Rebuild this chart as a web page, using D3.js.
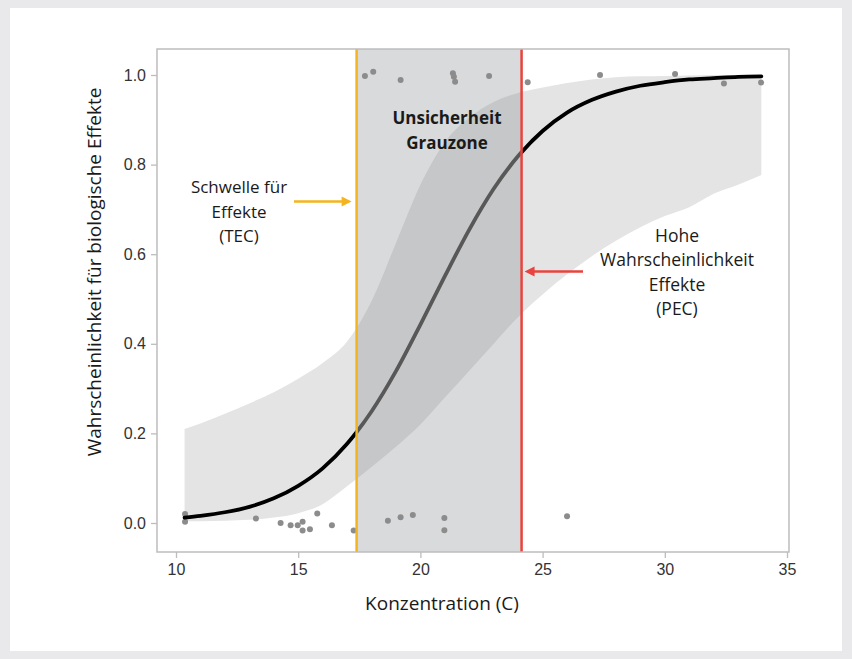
<!DOCTYPE html>
<html><head><meta charset="utf-8">
<script src="https://cdn.jsdelivr.net/npm/d3@7/dist/d3.min.js"></script>
<style>
html,body{margin:0;padding:0;background:#e9e9eb;}
svg{display:block;}
</style></head>
<body>
<script>
// ---- data ----
const xTicks = [10, 15, 20, 25, 30, 35];
const yTicks = [0.0, 0.2, 0.4, 0.6, 0.8, 1.0];
const tecValue = 17.39;   // threshold (orange line)
const pecValue = 24.14;   // high probability (red line)

const curveX = [10.35, 11, 12, 13, 14, 15, 16, 17, 18, 19, 20, 21, 22, 23, 24, 25, 26, 27, 28, 29, 30, 31, 32, 33, 33.95];
const curveP = [0.012, 0.016, 0.024, 0.036, 0.055, 0.083, 0.122, 0.177, 0.249, 0.339, 0.443, 0.551, 0.655, 0.746, 0.819, 0.875, 0.916, 0.944, 0.963, 0.976, 0.984, 0.990, 0.993, 0.996, 0.997];
const bandUpper = [0.21, 0.222, 0.244, 0.267, 0.292, 0.322, 0.357, 0.405, 0.495, 0.625, 0.755, 0.85, 0.905, 0.94, 0.96, 0.972, 0.982, 0.99, 0.995, 0.997, 0.998, 0.999, 1.0, 1.0, 1.0];
const bandLower = [0.004, 0.004, 0.005, 0.007, 0.012, 0.022, 0.042, 0.082, 0.125, 0.17, 0.22, 0.28, 0.34, 0.40, 0.46, 0.51, 0.555, 0.595, 0.63, 0.66, 0.685, 0.705, 0.735, 0.755, 0.777];

const obsX = [10.37, 10.37, 13.27, 14.28, 14.69, 14.98, 15.18, 15.18, 15.48, 15.78, 16.38, 17.27, 18.67, 19.19, 19.69, 20.98, 20.98, 26.0,
              17.73, 18.07, 19.19, 21.33, 21.37, 21.42, 22.81, 24.39, 27.35, 30.42, 32.42, 33.94];
const obsY = [0.02, 0.003, 0.01, 0.0, -0.005, -0.005, 0.003, -0.017, -0.014, 0.021, -0.005, -0.017, 0.005, 0.013, 0.018, 0.011, -0.016, 0.015,
              0.998, 1.007, 0.989, 1.004, 0.996, 0.985, 0.998, 0.984, 1.0, 1.002, 0.981, 0.983];

const yTitle = "Wahrscheinlichkeit für biologische Effekte";
const xTitle = "Konzentration (C)";
const zoneLines = ["Unsicherheit", "Grauzone"];
const tecLines = ["Schwelle für", "Effekte", "(TEC)"];
const pecLines = ["Hohe", "Wahrscheinlichkeit", "Effekte", "(PEC)"];

// ---- layout ----
const W = 852, H = 659;
const panel = {left: 157, right: 789, top: 49, bottom: 552};
const x = d3.scaleLinear().domain([10, 35]).range([176, 787]);
const y = d3.scaleLinear().domain([0, 1]).range([523, 75]);

const svg = d3.select("body").append("svg").attr("width", W).attr("height", H);
svg.append("rect").attr("x", 0).attr("y", 0).attr("width", W).attr("height", H).attr("fill", "#e9e9eb");
svg.append("rect").attr("x", 10).attr("y", 8).attr("width", 832).attr("height", 643).attr("fill", "#ffffff");

const zx0 = x(tecValue), zx1 = x(pecValue);
const defs = svg.append("defs");
defs.append("clipPath").attr("id", "zoneClip").append("rect")
  .attr("x", zx0).attr("y", panel.top).attr("width", zx1 - zx0).attr("height", panel.bottom - panel.top);
const outClip = defs.append("clipPath").attr("id", "outClip");
outClip.append("rect").attr("x", 0).attr("y", 0).attr("width", zx0).attr("height", H);
outClip.append("rect").attr("x", zx1).attr("y", 0).attr("width", W - zx1).attr("height", H);

const bandData = curveX.map((v, i) => ({x: v, lo: bandLower[i], hi: bandUpper[i], p: curveP[i]}));
const area = d3.area().x(d => x(d.x)).y0(d => y(d.lo)).y1(d => y(d.hi)).curve(d3.curveMonotoneX);
const line = d3.line().x(d => x(d.x)).y(d => y(d.p)).curve(d3.curveMonotoneX);

// band outside zone
svg.append("path").datum(bandData).attr("d", area).attr("fill", "#e4e4e4");
// gray zone
svg.append("rect").attr("x", zx0).attr("y", panel.top).attr("width", zx1 - zx0)
  .attr("height", panel.bottom - panel.top).attr("fill", "#d9dadb");
// band inside zone
svg.append("path").datum(bandData).attr("d", area).attr("fill", "#c6c7c8").attr("clip-path", "url(#zoneClip)");

// observations
svg.append("g").selectAll("circle").data(obsX.map((v, i) => [v, obsY[i]])).join("circle")
  .attr("cx", d => x(d[0])).attr("cy", d => y(d[1])).attr("r", 3).attr("fill", "#8c8c8c");

// fitted curve
svg.append("path").datum(bandData).attr("d", line).attr("fill", "none").attr("stroke", "#000")
  .attr("stroke-width", 3.8).attr("stroke-linecap", "round").attr("clip-path", "url(#outClip)");
svg.append("path").datum(bandData).attr("d", line).attr("fill", "none").attr("stroke", "#585858")
  .attr("stroke-width", 3.8).attr("clip-path", "url(#zoneClip)");

// vertical lines
svg.append("line").attr("x1", zx0).attr("x2", zx0).attr("y1", panel.top).attr("y2", panel.bottom)
  .attr("stroke", "#f4b41e").attr("stroke-width", 2.5);
svg.append("line").attr("x1", zx1).attr("x2", zx1).attr("y1", panel.top).attr("y2", panel.bottom)
  .attr("stroke", "#e8433e").attr("stroke-width", 2.5);

// frame
svg.append("rect").attr("x", panel.left).attr("y", panel.top).attr("width", panel.right - panel.left)
  .attr("height", panel.bottom - panel.top).attr("fill", "none").attr("stroke", "#bdbdbd").attr("stroke-width", 1.5);

// axes
const xAxis = svg.append("g").attr("transform", `translate(0,${panel.bottom})`)
  .call(d3.axisBottom(x).tickValues(xTicks).tickSize(6).tickSizeOuter(0).tickPadding(6));
const yAxis = svg.append("g").attr("transform", `translate(${panel.left},0)`)
  .call(d3.axisLeft(y).tickValues(yTicks).tickFormat(d3.format(".1f")).tickSize(6).tickSizeOuter(0).tickPadding(5));
[xAxis, yAxis].forEach(g => {
  g.select(".domain").remove();
  g.selectAll(".tick line").attr("stroke", "#bdbdbd").attr("stroke-width", 1.3);
  g.selectAll(".tick text").attr("fill", "#333").attr("font-family", "Liberation Sans, Arial, sans-serif").attr("font-size", 16);
});

// titles
const labelFont = "Open Sans, Noto Sans, sans-serif";
svg.append("text").attr("x", 442).attr("y", 610).attr("text-anchor", "middle")
  .attr("font-family", labelFont).attr("font-size", 19).attr("fill", "#1a1a1a").text(xTitle);
svg.append("text").attr("transform", "translate(101,272) rotate(-90)").attr("text-anchor", "middle")
  .attr("font-family", labelFont).attr("font-size", 19).attr("fill", "#1a1a1a").text(yTitle);

// annotations
function block(lines, cx, cy0, dy, size, bold) {
  const t = svg.append("text").attr("text-anchor", "middle").attr("font-family", labelFont)
    .attr("font-size", size).attr("fill", "#1a1a1a").attr("font-weight", bold ? "bold" : "normal");
  lines.forEach((s, i) => t.append("tspan").attr("x", cx).attr("y", cy0 + i * dy).text(s));
}
block(zoneLines, 447, 124, 25, 17, true);
block(tecLines, 239, 193, 24.5, 17, false);
block(pecLines, 677, 242, 24.3, 17.5, false);

// arrows
function arrow(x1, x2, yy, color) {
  const dir = Math.sign(x2 - x1);
  svg.append("line").attr("x1", x1).attr("x2", x2 - dir * 8).attr("y1", yy).attr("y2", yy).attr("stroke", color).attr("stroke-width", 2.5);
  svg.append("path").attr("d", `M${x2},${yy} L${x2 - dir * 10},${yy - 5} L${x2 - dir * 10},${yy + 5} Z`).attr("fill", color);
}
arrow(294, zx0 - 5, 201.5, "#f4b41e");
arrow(583, zx1 + 3, 271.5, "#e8433e");
</script>
</body></html>
